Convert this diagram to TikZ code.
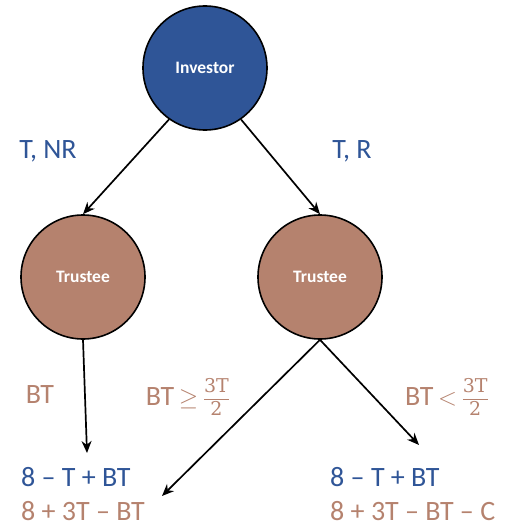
\documentclass[tikz,border=0pt]{standalone}
\usepackage{fontspec}
\setmainfont{Carlito}
\newfontfamily\fracfont{DejaVu Serif}
\usetikzlibrary{arrows.meta}
\definecolor{invblue}{HTML}{2F5597}
\definecolor{trbrown}{HTML}{B5826E}
\newcommand{\threehalf}{\raisebox{2pt}{\fontsize{19}{24}\selectfont$\displaystyle\frac{\hbox{\fracfont 3T}}{\hbox{\fracfont 2}}$}}
\tikzset{
  player/.style={circle, draw=black, line width=1.6pt, minimum size=124pt, inner sep=0pt, text=white, font=\fontsize{17.5}{20}\selectfont\bfseries},
  move/.style={line width=1.7pt, -{Stealth[length=12pt,width=10pt]}},
  lab/.style={font=\fontsize{28}{32}\selectfont, inner sep=0pt},
  pay/.style={font=\fontsize{28}{32}\selectfont, inner sep=0pt, anchor=west}
}
\begin{document}
\begin{tikzpicture}[x=1pt,y=-1pt]
		\useasboundingbox (0,0) rectangle (505,527);
		% players
		\node[player, fill=invblue] (inv) at (205,68) {Investor};
		\node[player, fill=trbrown] (trL) at (83,277) {Trustee};
		\node[player, fill=trbrown] (trR) at (320,277) {Trustee};
		
		% free ends of the arrows
		\coordinate (endL) at (87,453);
		\coordinate (endM) at (162,496);
		\coordinate (endR) at (419,445);
		
		\draw[move] (inv.235) -- (trL.north);
		\draw[move] (inv.305) -- (trR.north);
		\draw[move] (trL.south) -- (endL);
		\draw[move] (trR.south) -- (endM);
		\draw[move] (trR.south) -- (endR);
		
		% labels
		\node[lab, text=invblue] (tnr) at (48,151) {T, NR};
		\node[lab, text=invblue] (tr) at (352,151) {T, R};
		\node[lab, text=trbrown] (bt) at (40,395) {BT};
		\node[lab, text=trbrown] (btge) at (188,397) {BT\,$\geq$\,\threehalf};
		\node[lab, text=trbrown] (btlt) at (447,397) {BT\,$<$\,\threehalf};
		
		% payoffs
		\node[pay, text=invblue] (pL1) at (21,477) {8 – T + BT};
		\node[pay, text=trbrown] (pL2) at (21,511) {8 + 3T – BT};
		\node[pay, text=invblue] (pR1) at (330,477) {8 – T + BT};
		\node[pay, text=trbrown] (pR2) at (330,511) {8 + 3T – BT – C};
		\end{tikzpicture}
\end{document}
